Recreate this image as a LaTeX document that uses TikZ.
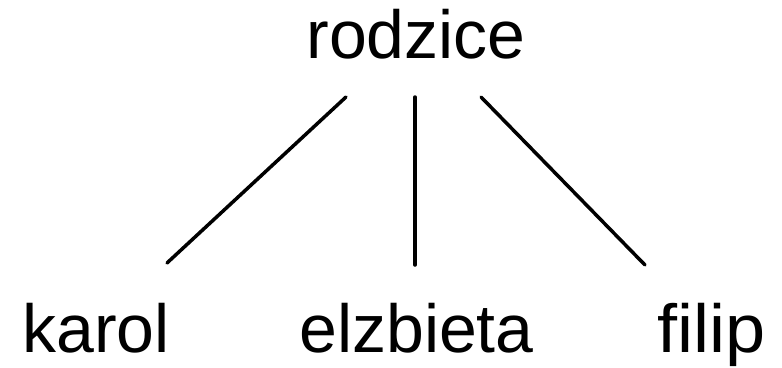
\documentclass[tikz,border=0pt]{standalone}
\usepackage{fontspec}
\setmainfont{Liberation Sans}
\usetikzlibrary{calc}
\begin{document}
\begin{tikzpicture}[x=1pt,y=-1pt,
  label text/.style={anchor=base,inner sep=0pt,font=\fontsize{68}{80}\selectfont},
  branch/.style={line width=3.5pt,line cap=round,black}]
  \useasboundingbox (0,0) rectangle (782,367);
  % names
  \node[label text] (root) at (416,58) {rodzice};
  \node[label text] (karol) at (96,352) {karol};
  \node[label text] (ela) at (416.5,352) {elzbieta};
  \node[label text,xscale=1.06] (filip) at (712,352) {filip};
  % branches from parent to each child
  \draw[branch] ($(root.base)+(-70,39)$) -- ($(karol.base)+(71,-89)$);
  \draw[branch] ($(root.base)+(-1,39)$) -- ($(ela.base)+(-1.5,-87)$);
  \draw[branch] ($(root.base)+(65,39)$) -- ($(filip.base)+(-67,-87)$);
\end{tikzpicture}
\end{document}
